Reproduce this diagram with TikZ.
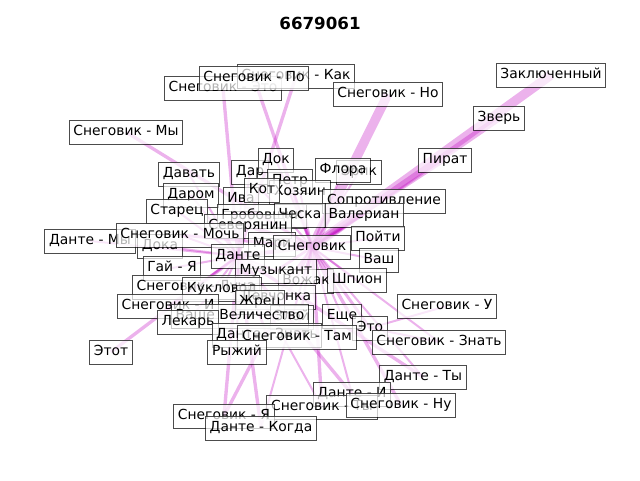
\documentclass[tikz,border=0pt]{standalone}
\usepackage{fontspec}
\setmainfont{DejaVu Sans}
\usetikzlibrary{backgrounds}
\definecolor{Mag}{HTML}{BF00BF}
\newcommand\lblfont{\fontsize{10.4}{12.5}\selectfont}
\tikzset{
  lbl/.style={draw=black,draw opacity=0.7,fill=white,fill opacity=0.7,text opacity=1,
    line width=0.75pt,inner xsep=3.1pt,inner ysep=3.1pt,text height=8.6pt,text depth=3.2pt,font=\lblfont},
  tie/.style={draw=Mag,draw opacity=0.3,line width=#1},
}
\begin{document}
\begin{tikzpicture}[x=0.75pt,y=-0.75pt]
    \useasboundingbox (0,0) rectangle (640,480);
    \node[font=\bfseries\fontsize{12.5}{15}\selectfont] (title) at (320,23) {6679061};
    % labels, in drawing order
    \node[lbl] (snEto) at (223,88) {Снеговик - Это};
    \node[lbl] (snKak) at (296,76) {Снеговик - Как};
    \node[lbl] (snPo) at (254,78) {Снеговик - По};
    \node[lbl] (snNo) at (388,94) {Снеговик - Но};
    \node[lbl] (zakl) at (551,75) {Заключенный};
    \node[lbl] (zver) at (499,118) {Зверь};
    \node[lbl] (pirat) at (445,160) {Пират};
    \node[lbl] (snMy) at (126,132) {Снеговик - Мы};
    \node[lbl] (erik) at (359,172) {Эрик};
    \node[lbl] (flora) at (343,170) {Флора};
    \node[lbl] (dar) at (250,172) {Дар};
    \node[lbl] (dok) at (276,160) {Док};
    \node[lbl] (davat) at (189,174) {Давать};
    \node[lbl] (darom) at (191,195) {Даром};
    \node[lbl] (petr) at (290,181) {Петр};
    \node[lbl] (hozyain) at (300,192) {Хозяин};
    \node[lbl] (iva) at (241,199) {Ива};
    \node[lbl] (kot) at (262,190) {Кот};
    \node[lbl] (soprot) at (384,201) {Сопротивление};
    \node[lbl] (valerian) at (364,215) {Валериан};
    \node[lbl] (starec) at (177,211) {Старец};
    \node[lbl] (grob) at (262,216) {Гробовщик};
    \node[lbl] (cheska) at (300,215) {Ческа};
    \node[lbl] (sever) at (248,226) {Северянин};
    \node[lbl] (doka) at (160,246) {Дока};
    \node[lbl] (daMy) at (90,241) {Данте - Мы};
    \node[lbl] (snMoch) at (180,235) {Снеговик - Мочь};
    \node[lbl] (mari) at (272,244) {Мари};
    \node[lbl] (sn) at (312,247) {Снеговик};
    \node[lbl] (poyti) at (378,238) {Пойти};
    \node[lbl] (vash) at (379,260) {Ваш};
    \node[lbl] (da) at (238,256) {Данте};
    \node[lbl] (vozhak) at (306,281) {Вожак};
    \node[lbl] (muzykant) at (276,271) {Музыкант};
    \node[lbl] (shpion) at (357,280) {Шпион};
    \node[lbl] (gay) at (172,268) {Гай - Я};
    \node[lbl] (snLuna) at (196,287) {Снеговик - Луна};
    \node[lbl] (kuklovod) at (222,289) {Кукловод};
    \node[lbl] (devch) at (276,297) {Девчонка};
    \node[lbl] (zhrec) at (260,302) {Жрец};
    \node[lbl] (snI) at (168,306) {Снеговик - И};
    \node[lbl] (zloy) at (292,317) {Злой};
    \node[lbl] (velich) at (240,316) {Ваше Величество};
    \node[lbl] (lekar) at (188,322) {Лекарь};
    \node[lbl] (eshe) at (342,316) {Еще};
    \node[lbl] (eto) at (370,328) {Это};
    \node[lbl] (daZnat) at (267,335) {Данте - Знать};
    \node[lbl] (snTam) at (297,337) {Снеговик - Там};
    \node[lbl] (ryzhiy) at (237,352) {Рыжий};
    \node[lbl] (etot) at (111,352) {Этот};
    \node[lbl] (snU) at (447,306) {Снеговик - У};
    \node[lbl] (snZnat) at (439,342) {Снеговик - Знать};
    \node[lbl] (daTy) at (423,377) {Данте - Ты};
    \node[lbl] (daI) at (352,394) {Данте - И};
    \node[lbl] (snTy) at (322,407) {Снеговик - Ты};
    \node[lbl] (snNu) at (401,405) {Снеговик - Ну};
    \node[lbl] (snYa) at (224,416) {Снеговик - Я};
    \node[lbl] (daKogda) at (261,428) {Данте - Когда};
    % connectors under the labels
    \begin{scope}[on background layer]
      \foreach \a/\b/\w in {sn/zakl/7pt,sn/zver/5pt,sn/pirat/2.5pt,sn/snNo/7pt,
          da/snEto/2.5pt,sn/snPo/2.5pt,da/snKak/2.5pt,sn/snMy/2.5pt,da/daMy/1.5pt,
          sn/snMoch/2.2pt,da/snMoch/1.5pt,da/etot/2.5pt,sn/snYa/2.5pt,da/snYa/2.5pt,
          da/daKogda/2.5pt,sn/daKogda/1.5pt,sn/snTy/2.5pt,da/snTy/1.5pt,da/daI/2.5pt,
          sn/snNu/2.5pt,da/daTy/2.5pt,eto/snU/1.5pt,eto/snZnat/1.5pt,sn/snZnat/1.5pt,
          sn/eto/2.2pt,sn/eshe/1.5pt,sn/daTy/1.5pt,sn/daI/1.5pt,sn/snTam/2pt,
          da/daZnat/2pt,sn/flora/1.5pt,sn/erik/1.5pt,sn/soprot/1.5pt,sn/valerian/1.5pt,
          sn/poyti/1.5pt,sn/vash/1.5pt,sn/shpion/1.5pt,sn/vozhak/1.5pt,sn/muzykant/2pt,
          da/muzykant/1.5pt,sn/kot/1.5pt,sn/dok/1.5pt,da/dar/1.5pt,da/davat/1.5pt,
          da/darom/1.5pt,da/starec/1.5pt,da/sever/1.5pt,sn/sever/3pt,da/gay/1.5pt,
          da/doka/1.5pt,da/snLuna/1.5pt,da/kuklovod/1.5pt,da/snI/1.5pt,da/lekar/1.5pt,
          da/velich/1.5pt,da/zhrec/1.5pt,da/ryzhiy/1.5pt,sn/da/3pt,sn/mari/1.5pt,
          sn/cheska/1.5pt,sn/grob/1.5pt,sn/hozyain/1.5pt,sn/petr/1.5pt,da/iva/1.5pt,
          sn/devch/1.5pt,sn/zloy/1.5pt}
        \draw[tie=\w] (\a.center) -- (\b.center);
    \end{scope}
\end{tikzpicture}
\end{document}
